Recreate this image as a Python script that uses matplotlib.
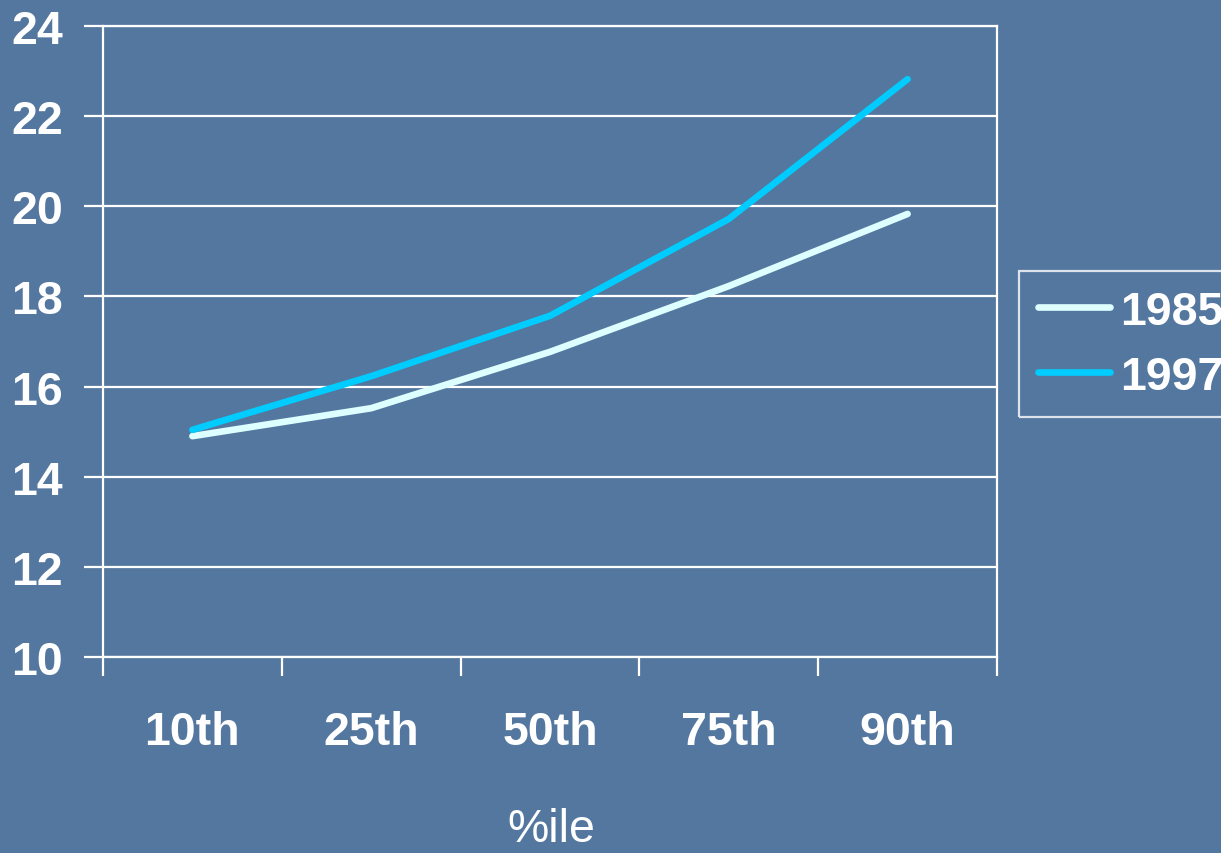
import matplotlib
matplotlib.use("Agg")
import matplotlib.pyplot as plt
from matplotlib.lines import Line2D

categories = ["10th", "25th", "50th", "75th", "90th"]
series_1985 = [14.9, 15.52, 16.77, 18.23, 19.83]
series_1997 = [15.04, 16.23, 17.57, 19.72, 22.82]
y_ticks = [10, 12, 14, 16, 18, 20, 22, 24]

BG = "#54779F"
C1985 = "#DDFFFF"
C1997 = "#00CCFF"
FS = 33.5

plt.rcParams["font.family"] = ["Liberation Sans", "DejaVu Sans"]

fig = plt.figure(figsize=(12.21, 8.54), dpi=100, facecolor=BG)
ax = fig.add_axes([103 / 1221, 1 - 658 / 854, (997 - 103) / 1221, (658 - 27) / 854])
ax.set_facecolor(BG)

x = list(range(len(categories)))
ax.plot(x, series_1985, color=C1985, lw=4.8, solid_capstyle="round", solid_joinstyle="round", zorder=3)
ax.plot(x, series_1997, color=C1997, lw=4.8, solid_capstyle="round", solid_joinstyle="round", zorder=3)

ax.set_xlim(-0.5, len(categories) - 0.5)
ax.set_ylim(10, 24)
ax.set_yticks(y_ticks)
ax.set_yticklabels([str(v) for v in y_ticks], fontsize=FS, fontweight="bold", color="white")
ax.yaxis.grid(True, color="white", lw=1.6)
ax.set_axisbelow(True)

# category labels centred between boundary ticks
ax.set_xticks([i - 0.5 for i in range(len(categories) + 1)])
ax.set_xticklabels([])
ax.set_xticks(x, minor=True)
ax.set_xticklabels(categories, minor=True, fontsize=FS, fontweight="bold", color="white")
ax.tick_params(axis="x", which="minor", length=0, pad=38)
ax.tick_params(axis="x", which="major", length=14, width=1.6, color="white", direction="out")
ax.tick_params(axis="y", length=14, width=1.6, color="white", direction="out", pad=15)

for side in ["left", "bottom", "right", "top"]:
    ax.spines[side].set_color("white")
    ax.spines[side].set_linewidth(1.6)

fig.text(551 / 1221, 1 - 830 / 854, "%ile", fontsize=FS, color="white", ha="center", va="center")

handles = [Line2D([], [], color=C1985, lw=4.8, solid_capstyle="round"),
           Line2D([], [], color=C1997, lw=4.8, solid_capstyle="round")]
leg = fig.legend(handles, ["1985", "1997"], loc="upper left",
                 bbox_to_anchor=(1019 / 1221, 1 - 272 / 854), bbox_transform=fig.transFigure,
                 frameon=True, fancybox=False, borderaxespad=0, borderpad=0.4,
                 handlelength=1.55, handletextpad=0.22, labelspacing=0.45,
                 prop={"size": FS, "weight": "bold"})
leg.get_frame().set_facecolor("none")
leg.get_frame().set_edgecolor("white")
leg.get_frame().set_linewidth(1.6)
for t in leg.get_texts():
    t.set_color("white")

fig.savefig("out.png", dpi=100, facecolor=BG)
